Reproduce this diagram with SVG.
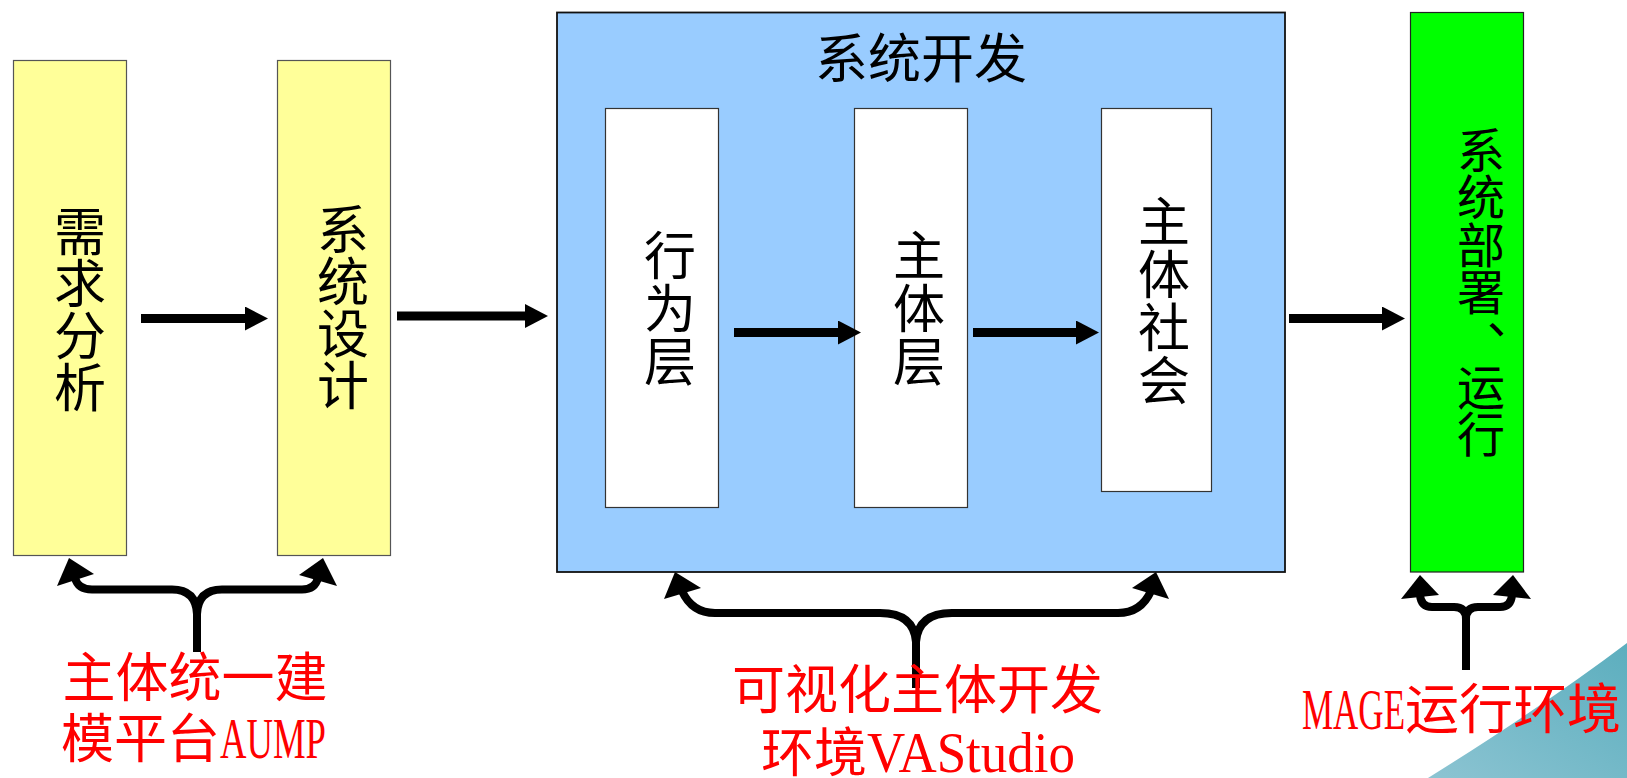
<svg xmlns="http://www.w3.org/2000/svg" width="1627" height="778" viewBox="0 0 1627 778">
<style>
.box{stroke-width:1.2}
.yel{fill:#FFFF99;stroke:#555555}
.blu{fill:#99CCFF;stroke:#111111;stroke-width:1.8}
.wht{fill:#FFFFFF;stroke:#333333}
.grn{fill:#00FF00;stroke:#222222}
.lbl{font-family:"Noto Sans CJK SC","Noto Sans CJK TC",sans-serif;font-size:52px;fill:#000000;text-anchor:middle}
.red{font-family:"Noto Sans CJK SC","Noto Sans CJK TC",sans-serif;font-size:53px;fill:#FF0000}
.lat{font-family:"Liberation Serif",serif;font-size:56px}
.arr{stroke:#000000;stroke-width:9;fill:none}
.brc{stroke:#000000;stroke-width:8;fill:none;stroke-linejoin:round}
.hd{fill:#000000}
</style>
<defs>
<marker id="ah" markerUnits="userSpaceOnUse" markerWidth="24" markerHeight="24" viewBox="0 0 24 24" refX="9" refY="12" orient="auto">
<path d="M0,0 L23,12 L0,24 z" fill="#000000"/>
</marker>
<linearGradient id="teal" x1="1" y1="0" x2="0" y2="1">
<stop offset="0" stop-color="#5CAEBE"/>
<stop offset="1" stop-color="#8CC4D2"/>
</linearGradient>
</defs>
<rect width="1627" height="778" fill="#FFFFFF"/>
<path d="M1627,643 Q1545,705 1428,778 L1627,778 Z" fill="url(#teal)"/>

<g id="node-xuqiu">
<rect class="box yel" x="13.5" y="60.5" width="113" height="495"/>
<text class="lbl"><tspan x="80" y="251">需</tspan><tspan x="80" y="303">求</tspan><tspan x="80" y="355">分</tspan><tspan x="80" y="407">析</tspan></text>
</g>
<g id="node-sheji">
<rect class="box yel" x="277.5" y="60.5" width="113" height="495"/>
<text class="lbl"><tspan x="343" y="249">系</tspan><tspan x="343" y="301">统</tspan><tspan x="343" y="353">设</tspan><tspan x="343" y="405">计</tspan></text>
</g>
<g id="node-kaifa">
<rect class="box blu" x="557" y="12.5" width="728" height="559.5"/>
<text class="lbl" x="921" y="78" style="font-size:53px">系统开发</text>
</g>
<g id="node-xingwei">
<rect class="box wht" x="605.5" y="108.5" width="113" height="399"/>
<text class="lbl"><tspan x="670" y="275">行</tspan><tspan x="670" y="328">为</tspan><tspan x="670" y="381">层</tspan></text>
</g>
<g id="node-zhuti">
<rect class="box wht" x="854.5" y="108.5" width="113" height="399"/>
<text class="lbl"><tspan x="919" y="275">主</tspan><tspan x="919" y="328">体</tspan><tspan x="919" y="381">层</tspan></text>
</g>
<g id="node-shehui">
<rect class="box wht" x="1101.5" y="108.5" width="110" height="383"/>
<text class="lbl"><tspan x="1164" y="241">主</tspan><tspan x="1164" y="294">体</tspan><tspan x="1164" y="347">社</tspan><tspan x="1164" y="400">会</tspan></text>
</g>
<g id="node-bushu">
<rect class="box grn" x="1410.5" y="12.5" width="113" height="559.5"/>
<text class="lbl" style="font-size:48px"><tspan x="1481" y="168">系</tspan><tspan x="1481" y="215">统</tspan><tspan x="1481" y="263">部</tspan><tspan x="1481" y="310">署</tspan><tspan x="1511" y="333">、</tspan><tspan x="1481" y="405">运</tspan><tspan x="1481" y="452">行</tspan></text>
</g>

<g id="connectors">
<line class="arr" x1="141" y1="318.5" x2="254" y2="318.5" marker-end="url(#ah)"/>
<line class="arr" x1="397" y1="316" x2="534" y2="316" marker-end="url(#ah)"/>
<line class="arr" x1="734" y1="332.5" x2="847" y2="332.5" marker-end="url(#ah)"/>
<line class="arr" x1="973" y1="332.5" x2="1085" y2="332.5" marker-end="url(#ah)"/>
<line class="arr" x1="1289" y1="318.5" x2="1391" y2="318.5" marker-end="url(#ah)"/>

<path class="brc" d="M75,578 Q78,589.5 92,589.5 L172,589.5 Q196,589.5 197,614 L197,652"/>
<path class="brc" d="M318,578 Q315,589.5 302,589.5 L222,589.5 Q198,589.5 197,614"/>
<polygon class="hd" points="69,558 57,586 94,574"/>
<polygon class="hd" points="323,558 299,575 337,586"/>

<path class="brc" d="M682,591 Q692,613 715,613 L880,613 Q914,613 916,642 L916,688"/>
<path class="brc" d="M1151,591 Q1141,613 1118,613 L952,613 Q918,613 916,642"/>
<polygon class="hd" points="675,572 664,599 701,588"/>
<polygon class="hd" points="1156,572 1132,588 1169,599"/>

<path class="brc" d="M1420,595 Q1421,607 1432,607 L1454,607 Q1466,607 1466,619 L1466,670"/>
<path class="brc" d="M1512,595 Q1511,607 1500,607 L1478,607 Q1466,607 1466,619"/>
<polygon class="hd" points="1420,575 1401,599 1439,595"/>
<polygon class="hd" points="1513,575 1493,595 1531,599"/>
</g>

<g id="label-aump">
<text class="red" x="195" y="697" text-anchor="middle">主体统一建</text>
<text class="red" x="61" y="758">模平台<tspan class="lat" textLength="106" lengthAdjust="spacingAndGlyphs">AUMP</tspan></text>
</g>
<g id="label-vastudio">
<text class="red" x="917.5" y="709" text-anchor="middle">可视化主体开发</text>
<text class="red" x="761" y="772">环境<tspan class="lat" textLength="208" lengthAdjust="spacingAndGlyphs">VAStudio</tspan></text>
</g>
<g id="label-mage">
<text class="red" x="1302" y="729"><tspan class="lat" textLength="103" lengthAdjust="spacingAndGlyphs">MAGE</tspan><tspan style="font-size:54px">运行环境</tspan></text>
</g>
</svg>
